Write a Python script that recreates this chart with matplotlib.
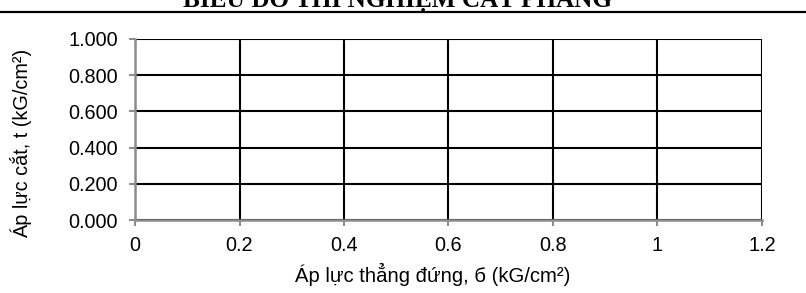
import matplotlib
matplotlib.use('Agg')
import matplotlib.pyplot as plt
from matplotlib.lines import Line2D

# Data (empty chart, only the axes)
x_ticks = [0, 0.2, 0.4, 0.6, 0.8, 1.0, 1.2]
x_tick_labels = ['0', '0.2', '0.4', '0.6', '0.8', '1', '1.2']
y_ticks = [0.0, 0.2, 0.4, 0.6, 0.8, 1.0]
y_tick_labels = ['0.000', '0.200', '0.400', '0.600', '0.800', '1.000']

title = 'BIỂU ĐỒ THÍ NGHIỆM CẮT PHẲNG'
x_label = 'Áp lực thẳng đứng, б (kG/cm²)'
y_label = 'Áp lực cắt, t (kG/cm²)'

sans = ['Liberation Sans', 'DejaVu Sans']
serif = ['Liberation Serif', 'DejaVu Serif']
fs = 14.3

fig = plt.figure(figsize=(8.06, 2.93), dpi=100)
ax = fig.add_axes([135 / 806, 1 - 220 / 293, (762 - 135) / 806, (220 - 39) / 293])

ax.set_xlim(0, 1.2)
ax.set_ylim(0, 1.0)
ax.set_xticks(x_ticks)
ax.set_xticklabels(x_tick_labels, family=sans, fontsize=fs)
ax.set_yticks(y_ticks)
ax.set_yticklabels(y_tick_labels, family=sans, fontsize=fs)

ax.grid(True, color='black', linewidth=1.5)
ax.set_axisbelow(False)
for s in ['top', 'right']:
    ax.spines[s].set_visible(False)
for s in ['left', 'bottom']:
    ax.spines[s].set_color('#8c8c8c')
    ax.spines[s].set_linewidth(1.8)
    ax.spines[s].set_zorder(5)
ax.tick_params(axis='both', direction='out', length=4.5, width=1.5, color='#8c8c8c',
               labelcolor='black')
ax.tick_params(axis='x', pad=7)
ax.tick_params(axis='y', pad=8)

ax.set_xlabel(x_label, family=sans, fontsize=14.6)
ax.xaxis.set_label_coords(0.474, -0.238)
ax.set_ylabel(y_label, family=sans, fontsize=fs)
ax.yaxis.set_label_coords(-0.165, 0.423)

# header rule and clipped title
fig.add_artist(Line2D([0, 1], [1 - 12 / 293, 1 - 12 / 293], color='black', linewidth=1.6,
                      transform=fig.transFigure))
fig.text(0.493, 1 - 6.5 / 293, title, family=serif, fontweight='bold', fontsize=18.2,
         ha='center', va='baseline')

fig.savefig('out.png', dpi=100)
